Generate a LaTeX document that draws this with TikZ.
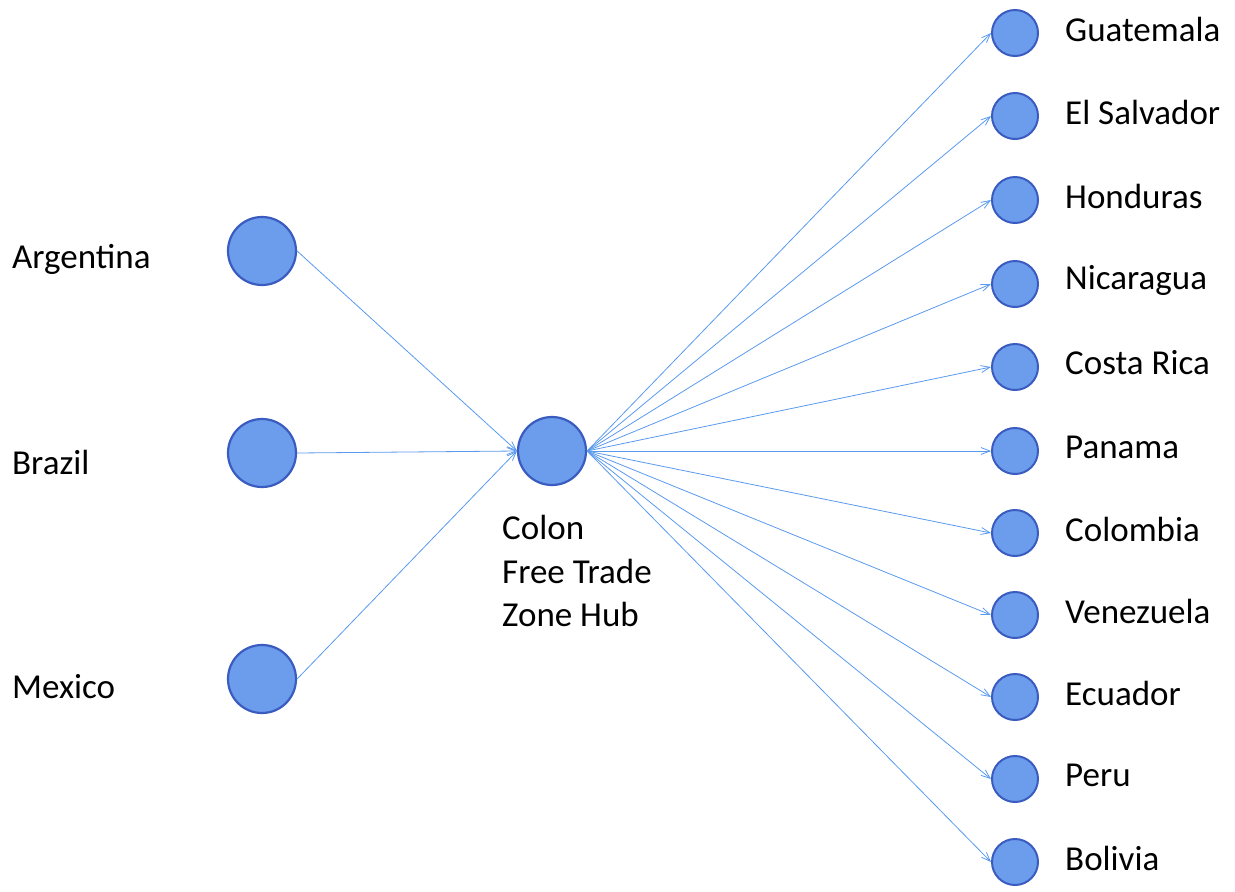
\documentclass[tikz,border=0pt]{standalone}
\usepackage{fontspec}
\setmainfont{Carlito}
\usetikzlibrary{arrows.meta}
\definecolor{nodefill}{HTML}{6C9CEC}
\definecolor{nodeedge}{HTML}{3A5CC0}
\definecolor{linkc}{HTML}{5A9AEE}
\begin{document}
\begin{tikzpicture}[x=1pt,y=-1pt,
  bignode/.style={circle,fill=nodefill,draw=nodeedge,line width=2.2pt,minimum size=68pt,inner sep=0pt},
  smallnode/.style={circle,fill=nodefill,draw=nodeedge,line width=2pt,minimum size=46pt,inner sep=0pt},
  lbl/.style={font=\fontsize{35}{44}\selectfont,inner sep=0pt,anchor=west},
  link/.style={draw=linkc,line width=0.8pt,-{Straight Barb[length=9pt,width=7pt]}}]
\useasboundingbox (0,0) rectangle (1235,892);
\node[bignode] (arg) at (262,251) {};
\node[bignode] (bra) at (262,453) {};
\node[bignode] (mex) at (262,679) {};
\node[bignode] (hub) at (552,451) {};
\node[lbl] (targ) at (12,259) {Argentina};
\node[lbl] (tbra) at (12,462) {Brazil};
\node[lbl] (tmex) at (12,687) {Mexico};
\node[lbl,align=left,anchor=north west,font=\fontsize{35}{43.5}\selectfont] (thub) at (502,515) {Colon\\Free Trade\\Zone Hub};
\foreach \n/\y/\t in {gua/33/Guatemala,sal/116/El Salvador,hon/200/Honduras,nic/284/Nicaragua,cos/367/Costa Rica,pan/451/Panama,col/533/Colombia,ven/615/Venezuela,ecu/697/Ecuador,per/779/Peru,bol/862/Bolivia}{
  \node[smallnode] (\n) at (1015,\y) {};
  \node[lbl] (t\n) at (1065,\y-4) {\t};
  \draw[link] (hub.east) -- (\n.west);
}
\draw[link] (arg.east) -- (hub.west);
\draw[link] (bra.east) -- (hub.west);
\draw[link] (mex.east) -- (hub.west);
\end{tikzpicture}
\end{document}
